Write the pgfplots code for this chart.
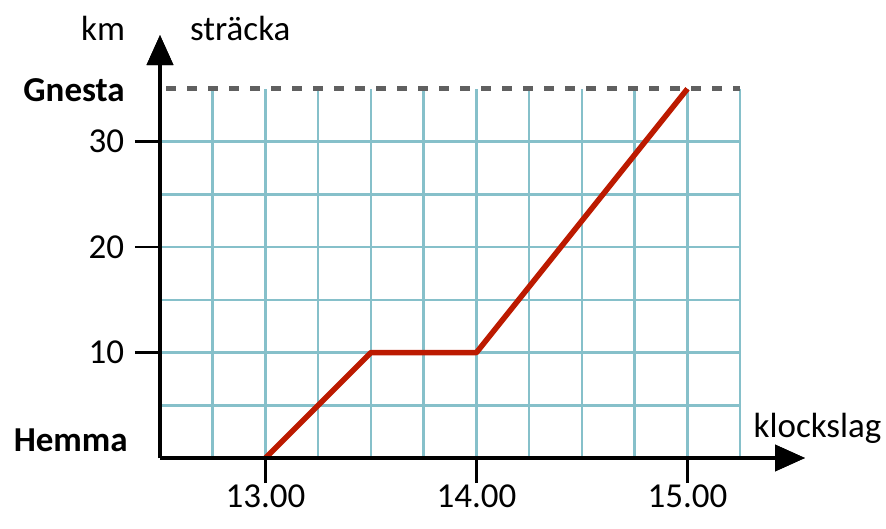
\documentclass[border=0pt]{standalone}
\usepackage{fontspec}
\setmainfont{Carlito}
\usepackage{pgfplots}
\pgfplotsset{compat=1.18}
\usetikzlibrary{arrows.meta}
\definecolor{gridc}{HTML}{86C0CA}
\definecolor{linec}{HTML}{BC1A00}
\definecolor{dashc}{HTML}{606060}
\begin{document}
\begin{tikzpicture}[x=1pt,y=1pt]
\fontsize{35}{42}\selectfont
\begin{axis}[
  at={(0,0)}, anchor=origin,
  scale only axis, width=645pt, height=423pt,
  xmin=12.5, xmax=15.557, ymin=0, ymax=40.1,
  axis lines=left,
  axis line style={line width=3.5pt, -{Triangle[length=30pt,width=26pt]}},
  clip=false,
  xtick={13,14,15}, xticklabels={13.00,14.00,15.00},
  ytick={10,20,30}, yticklabels={10,20,30},
  tick align=outside, major tick length=25pt,
  tick style={line width=2.5pt, black},
  ticklabel style={font=\fontsize{35}{42}\selectfont},
  xticklabel style={yshift=-1pt, inner sep=1pt},
  yticklabel style={xshift=1pt},
]
% grid
\foreach \yy in {5,10,15,20,25,30} {
  \edef\tmp{\noexpand\draw[gridc, line width=2.5pt] (axis cs:12.5,\yy) -- (axis cs:15.25,\yy);}\tmp
}
\foreach \xx in {12.75,13,13.25,13.5,13.75,14,14.25,14.5,14.75,15,15.25} {
  \edef\tmp{\noexpand\draw[gridc, line width=2.5pt] (axis cs:\xx,0) -- (axis cs:\xx,35);}\tmp
}
\draw[dashc, line width=5pt, dash pattern=on 10pt off 11pt] (axis cs:12.53,35) -- (axis cs:15.25,35);
\addplot[linec, line width=5.5pt, line join=round] coordinates {(13,0) (13.5,10) (14,10) (15,35)};
% axis redrawn on top
\draw[line width=3.5pt, -{Triangle[length=30pt,width=26pt]}] (axis cs:12.5,0) -- (axis cs:15.557,0);
\draw[line width=3.5pt, -{Triangle[length=30pt,width=26pt]}] (axis cs:12.5,0) -- (axis cs:12.5,40.1);
\node[anchor=center] at (axis cs:12.23,40.76) {km};
\node[anchor=west, inner sep=0pt] at (axis cs:12.642,40.76) {sträcka};
\node[anchor=east, inner sep=0pt, font=\fontsize{35}{42}\selectfont\bfseries] at (axis cs:12.334,34.9) {Gnesta};
\node[anchor=east, inner sep=0pt, font=\fontsize{35}{42}\selectfont\bfseries] at (axis cs:12.348,1.7) {Hemma};
\node[anchor=east, inner sep=0pt] at (axis cs:15.92,2.84) {klockslag};
\end{axis}
\pgfresetboundingbox
\path (-160pt,-70pt) rectangle (726pt,458pt);
\end{tikzpicture}
\end{document}
